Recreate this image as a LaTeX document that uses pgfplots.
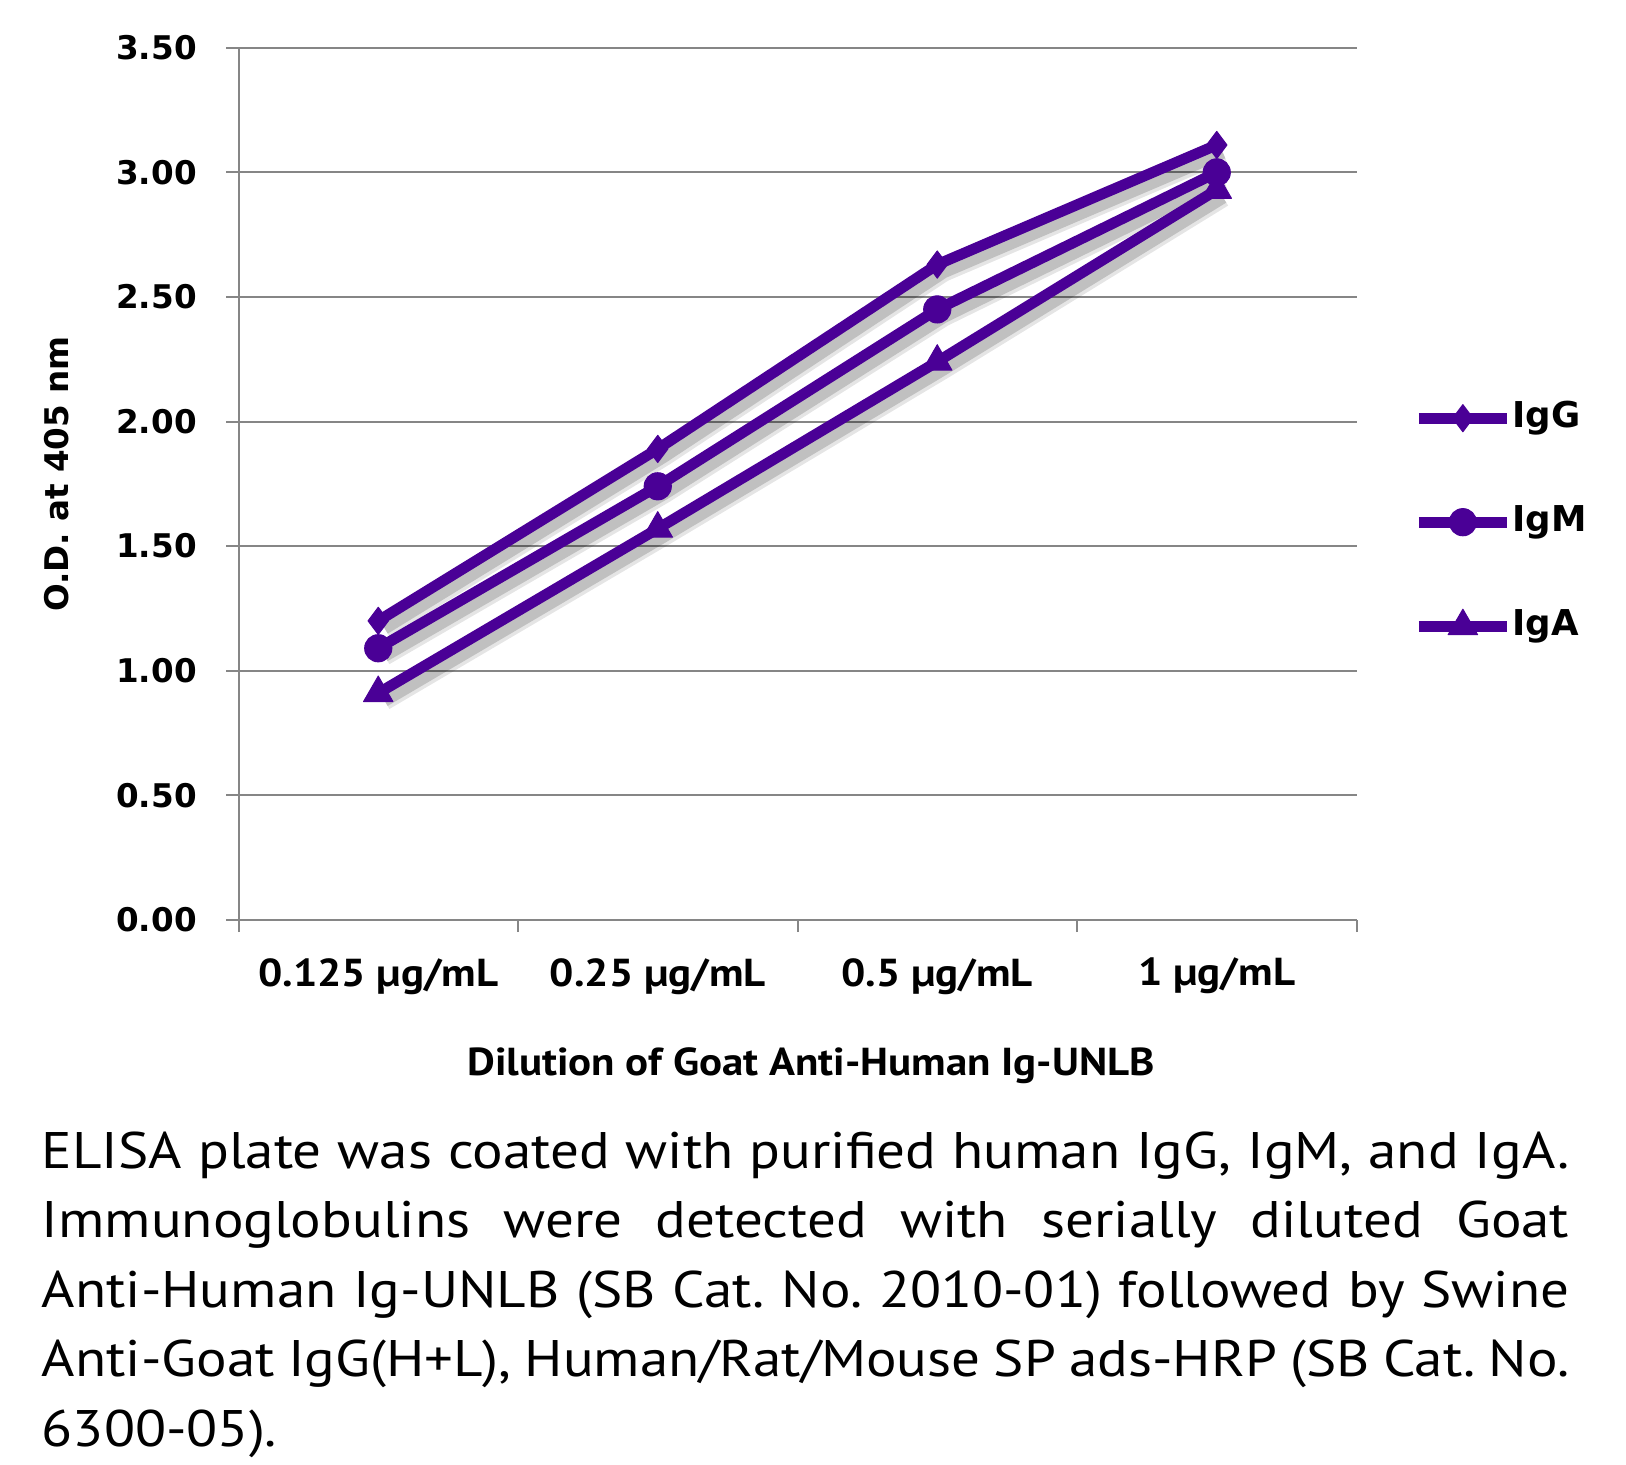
\documentclass[border=0pt]{standalone}
\usepackage{fontspec}
\setmainfont{PT Sans}
\newfontfamily\dvs{DejaVu Sans}
\newfontfamily\ptw{PT Sans}[FakeStretch=1.1]
\newfontfamily\ptc{PT Sans}[FakeStretch=1.11]
\usepackage{pgfplots}
\pgfplotsset{compat=1.18}
\definecolor{ipurple}{RGB}{74,0,150}
\definecolor{gridgray}{RGB}{134,134,134}
\pgfplotsset{
  shadowA/.style={forget plot, draw=black, opacity=0.10, line width=11pt, xshift=2.8pt, yshift=-3.2pt, line join=round},
  shadowB/.style={forget plot, draw=black, opacity=0.16, line width=7.5pt, xshift=2.8pt, yshift=-3.2pt, line join=round},
}
\frenchspacing
\newcommand{\cl}[1]{\makebox[763.7pt][s]{#1}}
\begin{document}
\begin{tikzpicture}
\path[use as bounding box] (0,0) rectangle (813pt,-732pt);
\begin{axis}[
  at={(119.25pt,-459.9pt)}, anchor=south west,
  scale only axis, width=559pt, height=436pt,
  xmin=0, xmax=4, ymin=0, ymax=3.5,
  axis x line=bottom, axis y line=left,
  axis line style={gridgray, line width=1pt, -},
  every outer x axis line/.append style={-},
  every outer y axis line/.append style={-},
  xtick={0,1,2,3,4}, xticklabels={},
  extra x ticks={0.5,1.5,2.5,3.5},
  extra x tick labels={0.125 μg/mL,0.25 μg/mL,0.5 μg/mL,1 μg/mL},
  extra x tick style={major tick length=0pt, xticklabel style={anchor=north, inner sep=0pt, yshift=-19pt}},
  ytick={0,0.5,1,1.5,2,2.5,3,3.5},
  yticklabels={0.00,0.50,1.00,1.50,2.00,2.50,3.00,3.50},
  ymajorgrids, grid style={gridgray, line width=1pt},
  tick align=outside, major tick length=6.2pt,
  tick style={gridgray, line width=1pt},
  yticklabel style={anchor=east, inner sep=0pt, xshift=-14.5pt, font=\dvs\bfseries\fontsize{16.3pt}{18pt}\selectfont},
  xticklabel style={font=\ptw\bfseries\fontsize{19.5pt}{21pt}\selectfont},
  xlabel={Dilution of Goat Anti-Human Ig-UNLB},
  ylabel={O.D. at 405 nm},
  xlabel style={at={(axis description cs:0.5,0)}, anchor=center, yshift=-73pt, xshift=6.8pt, font=\ptw\bfseries\fontsize{19.5pt}{21pt}\selectfont},
  ylabel style={at={(axis description cs:-0.16234,0.5112)}, anchor=center, rotate=0, font=\dvs\bfseries\fontsize{16.3pt}{18pt}\selectfont},
  clip=false,
  legend style={at={(axis description cs:1.0506,0.456)}, anchor=west, draw=none, fill=none,
    inner sep=0pt, row sep=35pt, column sep=0pt,
    nodes={inner sep=0pt, text height=13pt, text depth=4pt},
    font=\dvs\bfseries\fontsize{17.8pt}{19pt}\selectfont},
  legend cell align=left,
  legend image code/.code={%
    \draw[#1, line cap=round] (2.8pt,0pt) -- (41.2pt,0pt);
    \draw[#1, mark repeat=2, mark phase=2] plot coordinates {(0pt,0pt) (22pt,0pt) (44pt,0pt)};
  },
]
% shadows
\addplot[shadowA] coordinates {(0.5,1.20) (1.5,1.89) (2.5,2.63) (3.5,3.11)};
\addplot[shadowA] coordinates {(0.5,1.09) (1.5,1.74) (2.5,2.45) (3.5,3.00)};
\addplot[shadowA] coordinates {(0.5,0.91) (1.5,1.57) (2.5,2.24) (3.5,2.93)};
\addplot[shadowB] coordinates {(0.5,1.20) (1.5,1.89) (2.5,2.63) (3.5,3.11)};
\addplot[shadowB] coordinates {(0.5,1.09) (1.5,1.74) (2.5,2.45) (3.5,3.00)};
\addplot[shadowB] coordinates {(0.5,0.91) (1.5,1.57) (2.5,2.24) (3.5,2.93)};
\addplot[ipurple, line width=5.4pt, line join=round, mark=diamond*, mark size=6.8pt, mark options={solid, line width=0.5pt, fill=ipurple}]
  coordinates {(0.5,1.20) (1.5,1.89) (2.5,2.63) (3.5,3.11)};
\addlegendentry{IgG}
\addplot[ipurple, line width=5.4pt, line join=round, mark=*, mark size=6.8pt, mark options={solid, line width=0.5pt, fill=ipurple}]
  coordinates {(0.5,1.09) (1.5,1.74) (2.5,2.45) (3.5,3.00)};
\addlegendentry{IgM}
\addplot[ipurple, line width=5.4pt, line join=round, mark=triangle*, mark size=8.5pt, mark options={solid, line width=0.5pt, fill=ipurple}]
  coordinates {(0.5,0.91) (1.5,1.57) (2.5,2.24) (3.5,2.93)};
\addlegendentry{IgA}
\end{axis}
\node[anchor=north west, inner sep=0pt, align=left,
  font=\ptc\fontsize{25.7pt}{34.75pt}\selectfont] at (20.75pt,-565.5pt)
{\cl{ELISA plate was coated with purified human IgG, IgM, and IgA.}\\
\cl{Immunoglobulins were detected with serially diluted Goat}\\
\cl{Anti-Human Ig-UNLB (SB Cat. No. 2010-01) followed by Swine}\\
\cl{Anti-Goat IgG(H+L), Human/Rat/Mouse SP ads-HRP (SB Cat. No.}\\
6300-05).};
\end{tikzpicture}
\end{document}
